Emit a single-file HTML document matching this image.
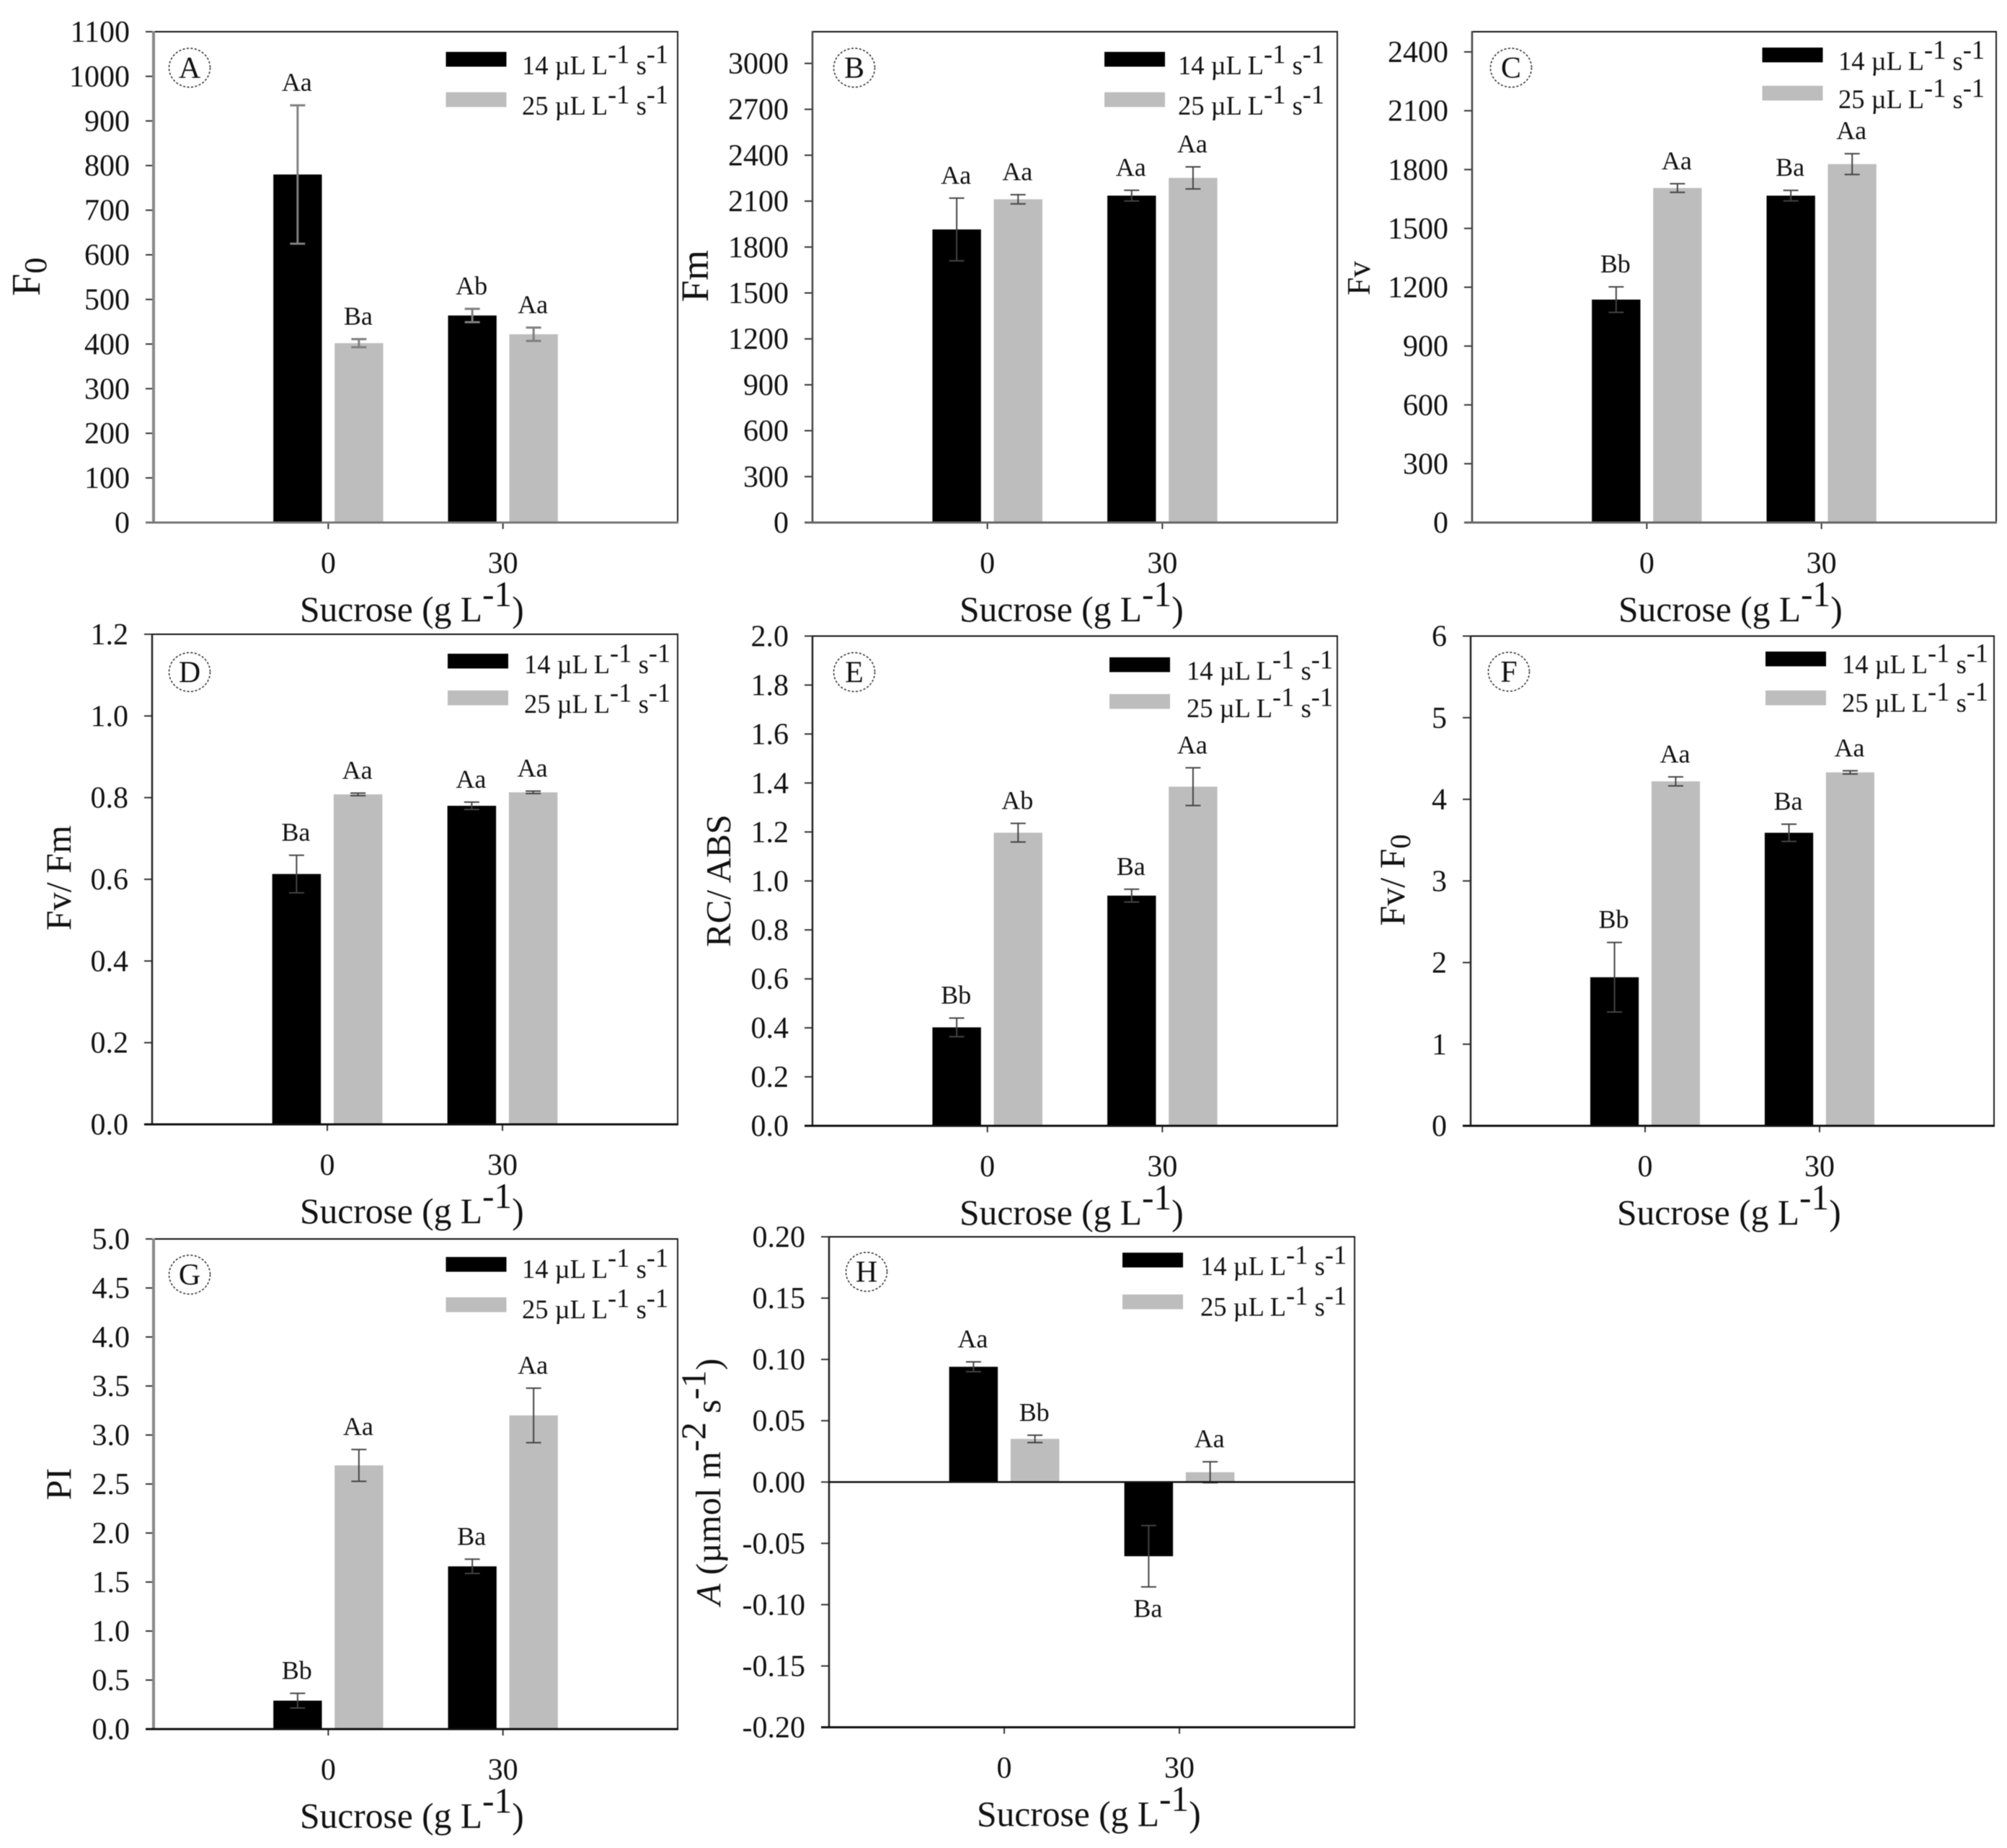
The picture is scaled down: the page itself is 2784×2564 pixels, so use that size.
<!DOCTYPE html>
<html lang="en">
<head>
<meta charset="utf-8">
<title>Sucrose response bar charts</title>
<style>
html,body{margin:0;padding:0;background:#fff;}
#figure{display:block;width:2784px;height:2564px;background:#fff;font-family:"Liberation Serif",serif;filter:blur(0.6px);}
#figure text{font-family:"Liberation Serif",serif;fill:#111;white-space:pre;}
</style>
</head>
<body>
<svg id="figure" xmlns="http://www.w3.org/2000/svg" width="2784" height="2564" viewBox="0 0 2784 2564"></svg>
<script>
const categories = ['0', '30'];
const seriesNames = ['14', '25'];

const aTicks = ['0','100','200','300','400','500','600','700','800','900','1000','1100'];
const aLow = [780, 464];
const aLowErr = [155, 15];
const aHigh = [402, 422];
const aHighErr = [9, 15];
const aLetters = ['Aa', 'Ba', 'Ab', 'Aa'];

const bTicks = ['0','300','600','900','1200','1500','1800','2100','2400','2700','3000'];
const bLow = [1915, 2136];
const bLowErr = [205, 35];
const bHigh = [2112, 2252];
const bHighErr = [30, 72];
const bLetters = ['Aa', 'Aa', 'Aa', 'Aa'];

const cTicks = ['0','300','600','900','1200','1500','1800','2100','2400'];
const cLow = [1137, 1667];
const cLowErr = [65, 27];
const cHigh = [1706, 1828];
const cHighErr = [22, 53];
const cLetters = ['Bb', 'Aa', 'Ba', 'Aa'];

const dTicks = ['0.0','0.2','0.4','0.6','0.8','1.0','1.2'];
const dLow = [0.613, 0.78];
const dLowErr = [0.046, 0.009];
const dHigh = [0.808, 0.813];
const dHighErr = [0.003, 0.003];
const dLetters = ['Ba', 'Aa', 'Aa', 'Aa'];

const eTicks = ['0.0','0.2','0.4','0.6','0.8','1.0','1.2','1.4','1.6','1.8','2.0'];
const eLow = [0.402, 0.94];
const eLowErr = [0.038, 0.026];
const eHigh = [1.197, 1.385];
const eHighErr = [0.038, 0.077];
const eLetters = ['Bb', 'Ab', 'Ba', 'Aa'];

const fTicks = ['0','1','2','3','4','5','6'];
const fLow = [1.82, 3.59];
const fLowErr = [0.426, 0.105];
const fHigh = [4.22, 4.33];
const fHighErr = [0.055, 0.02];
const fLetters = ['Bb', 'Aa', 'Ba', 'Aa'];

const gTicks = ['0.0','0.5','1.0','1.5','2.0','2.5','3.0','3.5','4.0','4.5','5.0'];
const gLow = [0.29, 1.66];
const gLowErr = [0.075, 0.073];
const gHigh = [2.69, 3.2];
const gHighErr = [0.162, 0.278];
const gLetters = ['Bb', 'Aa', 'Ba', 'Aa'];

const hTicks = ['-0.20','-0.15','-0.10','-0.05','0.00','0.05','0.10','0.15','0.20'];
const hLow = [0.094, -0.0605];
const hLowErr = [0.004, 0.025];
const hHigh = [0.0352, 0.008];
const hHighErr = [0.003, 0.0085];
const hLetters = ['Aa', 'Bb', 'Ba', 'Aa'];

const panels = [
  {id:'a',letter:'A',ticks:aTicks,low:aLow,lowErr:aLowErr,high:aHigh,highErr:aHighErr,marks:aLetters,min:0,max:1100,
   box:[213,940,44,725],circle:[263,94],legend:[618.5,72,128,724,103,159],titleX:416,yTitle:[[ 'F',0],['0',1]],yPos:[55,384],ySize:56,axisCol:'#888',bottomCol:'#777',errCol:'#808080',errW:3},
  {id:'b',letter:'B',ticks:bTicks,low:bLow,lowErr:bLowErr,high:bHigh,highErr:bHighErr,marks:bLetters,min:0,max:3207,
   box:[1127,1855,44,725],circle:[1185,94],legend:[1532,72,128,1634,103,159],titleX:1331,yTitle:[['Fm',0]],yPos:[982,383],ySize:54,axisCol:'#444',bottomCol:'#666',errCol:'#444',errW:2},
  {id:'c',letter:'C',ticks:cTicks,low:cLow,lowErr:cLowErr,high:cHigh,highErr:cHighErr,marks:cLetters,min:0,max:2503,
   box:[2042,2769,44,725],circle:[2096,94],legend:[2444.5,66,119,2550,97,150],titleX:2245,yTitle:[['Fv',0]],yPos:[1900,386],ySize:45,axisCol:'#444',bottomCol:'#666',errCol:'#444',errW:2},
  {id:'d',letter:'D',ticks:dTicks,low:dLow,lowErr:dLowErr,high:dHigh,highErr:dHighErr,marks:dLetters,min:0,max:1.2,
   box:[211,940,880,1560],circle:[263,932.5],legend:[621,907,958,727,934,989],titleX:416,yTitle:[['Fv/ Fm',0]],yPos:[98,1218],ySize:50,axisCol:'#222',bottomCol:'#111',errCol:'#444',errW:2},
  {id:'e',letter:'E',ticks:eTicks,low:eLow,lowErr:eLowErr,high:eHigh,highErr:eHighErr,marks:eLetters,min:0,max:2,
   box:[1127,1855,882.5,1562],circle:[1185,932.5],legend:[1539,912,963,1646,943,995],titleX:1331,yTitle:[['RC/ ABS',0]],yPos:[1013,1222],ySize:49,axisCol:'#222',bottomCol:'#111',errCol:'#444',errW:2},
  {id:'f',letter:'F',ticks:fTicks,low:fLow,lowErr:fLowErr,high:fHigh,highErr:fHighErr,marks:fLetters,min:0,max:6,
   box:[2040,2766,882.5,1562],circle:[2093,932],legend:[2449,904,958,2555,934,987.5],titleX:2243,yTitle:[['Fv/ F',0],['0',1]],yPos:[1948,1221],ySize:50,axisCol:'#222',bottomCol:'#111',errCol:'#444',errW:2},
  {id:'g',letter:'G',ticks:gTicks,low:gLow,lowErr:gLowErr,high:gHigh,highErr:gHighErr,marks:gLetters,min:0,max:5,
   box:[213,940,1719,2399],circle:[263,1768.5],legend:[618.5,1744,1800,724,1773,1829],titleX:416,yTitle:[['PI',0]],yPos:[98,2059],ySize:50,axisCol:'#888',bottomCol:'#111',errCol:'#444',errW:2},
  {id:'h',letter:'H',ticks:hTicks,low:hLow,lowErr:hLowErr,high:hHigh,highErr:hHighErr,marks:hLetters,min:-0.2,max:0.2,
   box:[1150,1879,1716,2396.5],circle:[1202,1764.6],legend:[1557,1738,1796,1665,1769,1825.5],titleX:1355,yTitle:[['A',3],[' (µmol m',0],['-2',2],[' s',0],['-1',2],[')',0]],yPos:[999,2056],ySize:49,axisCol:'#222',bottomCol:'#111',errCol:'#444',errW:2}
];

const NS = 'http://www.w3.org/2000/svg';
const root = document.getElementById('figure');

function make(tag, attrs, parent) {
  const el = document.createElementNS(NS, tag);
  for (const k in attrs) el.setAttribute(k, attrs[k]);
  parent.appendChild(el);
  return el;
}

function line(parent, x1, y1, x2, y2, col, w) {
  return make('line', {x1:x1, y1:y1, x2:x2, y2:y2, stroke:col, 'stroke-width':w}, parent);
}

/* style: 0 normal, 1 subscript, 2 superscript, 3 italic */
function rich(el, parts, size) {
  let pending = 0;
  parts.forEach(function (p) {
    const ts = make('tspan', {}, el);
    ts.textContent = p[0];
    let shift = 0;
    if (p[1] === 1) { shift = size * 0.16; ts.setAttribute('font-size', size * 0.8); }
    if (p[1] === 2) { shift = -size * 0.42; }
    if (p[1] === 3) { ts.setAttribute('font-style', 'italic'); }
    const dy = shift + pending;
    if (dy !== 0) ts.setAttribute('dy', dy);
    pending = -shift;
  });
}

panels.forEach(function (p) {
  const left = p.box[0], right = p.box[1], top = p.box[2], bottom = p.box[3];
  const width = right - left;
  const xScale = function (i) { return left + width * (i + 1) / 3; };
  const yScale = function (v) { return bottom - (v - p.min) / (p.max - p.min) * (bottom - top); };
  const barOffset = width / 17.1;
  const barWidth = width / 10.8;

  const g = make('g', {}, root);
  
  

  /* bars, error bars, significance letters */
  categories.forEach(function (cat, i) {
    [[p.low, p.lowErr, '#000000', 'low'], [p.high, p.highErr, '#bdbdbd', 'high']].forEach(function (s, si) {
      const v = s[0][i], err = s[1][i];
      const cx = xScale(i) + (si === 0 ? -barOffset : barOffset);
      const y0 = yScale(0), yv = yScale(v);

      const bar = make('rect', {x: cx - barWidth / 2, y: Math.min(y0, yv), width: barWidth, height: Math.abs(y0 - yv), fill: s[2]}, g);
      
      

      const yUp = yScale(v + err), yDn = yScale(v - err);
      const eg = make('g', {}, g);
      
      
      line(eg, cx, yUp, cx, yDn, p.errCol, p.errW);
      line(eg, cx - 10.5, yUp, cx + 10.5, yUp, p.errCol, p.errW);
      line(eg, cx - 10.5, yDn, cx + 10.5, yDn, p.errCol, p.errW);

      const below = v < 0;
      const mark = make('text', {x: cx - 1, y: below ? yDn + 42 : yUp - 20, 'text-anchor': 'middle', 'font-size': 36}, g);
      mark.textContent = p.marks[i * 2 + si];
      
      
    });

    /* x ticks */
    const tx = xScale(i);
    const xTick = line(g, tx, bottom, tx, bottom + 9, '#333', 2);
    
    
    const xLab = make('text', {x: tx, y: bottom + 70, 'text-anchor': 'middle', 'font-size': 42}, g);
    xLab.textContent = cat;
    
    
  });

  /* y ticks */
  p.ticks.forEach(function (label) {
    const ty = yScale(Number(label));
    const yTick = line(g, left - 11, ty, left, ty, '#333', 2);
    
    
    const yLab = make('text', {x: left - 33, y: ty + 14, 'text-anchor': 'end', 'font-size': 42}, g);
    yLab.textContent = label;
    
    
  });

  /* frame */
  const frameTop = line(g, left - 1, top, right + 1, top, '#111', 2);
  
  
  const frameRight = line(g, right, top, right, bottom, '#222', 2);
  
  
  const axisY = line(g, left, top - 1, left, bottom + 1, p.axisCol, p.axisCol === '#888' ? 4 : 2.5);
  
  
  const axisX = line(g, left - 11, bottom, right + 1, bottom, p.bottomCol, 3);
  
  
  if (p.min < 0) {
    const zero = line(g, left, yScale(0), right, yScale(0), '#111', 2.5);
    
    
  }

  /* legend */
  const lg = p.legend;
  seriesNames.forEach(function (name, si) {
    const sw = make('rect', {x: lg[0], y: lg[1 + si], width: 84, height: 20.5, fill: si === 0 ? '#000000' : '#bdbdbd'}, g);
    
    
    const lt = make('text', {x: lg[3], y: lg[4 + si], 'font-size': 36.5}, g);
    rich(lt, [[name + ' µL L', 0], ['-1', 2], [' s', 0], ['-1', 2]], 36.5);
    
    
  });

  /* panel letter */
  const ring = make('ellipse', {cx: p.circle[0], cy: p.circle[1], rx: 28.5, ry: 27, fill: 'none', stroke: '#222', 'stroke-width': 1.5, 'stroke-dasharray': '3 2.5'}, g);
  
  
  const letter = make('text', {x: p.circle[0], y: p.circle[1] + 14, 'text-anchor': 'middle', 'font-size': 42}, g);
  letter.textContent = p.letter;
  
  

  /* axis titles */
  const xt = make('text', {x: p.titleX, y: bottom + 137, 'font-size': 49.5}, g);
  rich(xt, [['Sucrose (g L', 0], ['-1', 2], [')', 0]], 49.5);
  
  

  const yt = make('text', {transform: 'translate(' + p.yPos[0] + ',' + p.yPos[1] + ') rotate(-90)', 'text-anchor': 'middle', 'font-size': p.ySize}, g);
  rich(yt, p.yTitle, p.ySize);
  
  
});
</script>
</body>
</html>
